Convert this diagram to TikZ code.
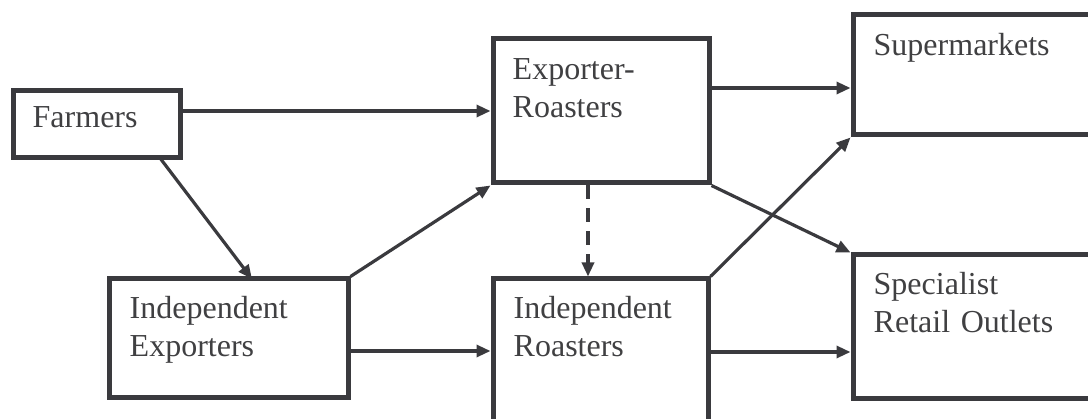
\documentclass[tikz,border=0pt]{standalone}
\usepackage{fontspec}
\setmainfont{Liberation Serif}
\usetikzlibrary{arrows.meta}
\definecolor{ink}{RGB}{58,58,62}
\definecolor{txt}{RGB}{64,64,66}
\tikzset{
  stage/.style={draw=ink, line width=5pt, rectangle, inner sep=0pt},
  lbl/.style={text=txt, inner sep=0pt, anchor=base west, text width=300pt, align=left,
              font=\fontsize{32}{38}\selectfont},
  flow/.style={draw=ink, line width=3.2pt, -{Triangle[length=14pt,width=12pt]}},
  minorflow/.style={flow, dash pattern=on 14pt off 9pt}
}
\begin{document}
\begin{tikzpicture}[x=1pt,y=-1pt]
\useasboundingbox (0,0) rectangle (1088,419);
\clip (0,0) rectangle (1088,419);

% boxes of the supply chain
\node[stage, minimum width=167pt, minimum height=67pt]  (farmers) at (96.5,124.5) {};
\node[stage, minimum width=216pt, minimum height=144pt] (er)      at (601,111)    {};
\node[stage, minimum width=260pt, minimum height=120pt] (sm)      at (983,75)     {};
\node[stage, minimum width=260pt, minimum height=144pt] (sp)      at (983,327)    {};
\node[stage, minimum width=215pt, minimum height=144pt] (ir)      at (600.5,351)  {};
\node[stage, minimum width=239pt, minimum height=119pt] (ie)      at (228.5,338.5){};

% box labels (shifts are in the downward y of this picture)
\node[lbl] (t-farmers) at ([shift={(22,39)}]farmers.north west) {Farmers};
\node[lbl] (t-er)      at ([shift={(22,43)}]er.north west) {Exporter-\\Roasters};
\node[lbl] (t-sm)      at ([shift={(23,43)}]sm.north west) {Supermarkets};
\node[lbl] (t-sp)      at ([shift={(23,42)}]sp.north west) {Specialist\\Retail Outlets};
\node[lbl] (t-ir)      at ([shift={(23,42)}]ir.north west) {Independent\\Roasters};
\node[lbl] (t-ie)      at ([shift={(23,42)}]ie.north west) {Independent\\Exporters};

% attachment points
\coordinate (fs)   at (160,158);
\coordinate (iein) at (252,279);
\coordinate (dx)   at (588,0);
\coordinate (y88)  at (0,88);
\coordinate (y352) at (0,352);

% flows
\draw[flow] (er.west -| farmers.east) -- (er.west);
\draw[flow] (fs) -- (iein);
\draw[flow] (ie.north east) -- (er.south west);
\draw[flow] (ir.west -| ie.east) -- (ir.west);
\draw[minorflow] (er.south -| dx) -- (ir.north -| dx);
\draw[flow] (er.east |- y88) -- (sm.west |- y88);
\draw[flow] (er.south east) -- (sp.north west);
\draw[flow] (ir.north east) -- (sm.south west);
\draw[flow] (ir.east |- y352) -- (sp.west |- y352);
\end{tikzpicture}
\end{document}
